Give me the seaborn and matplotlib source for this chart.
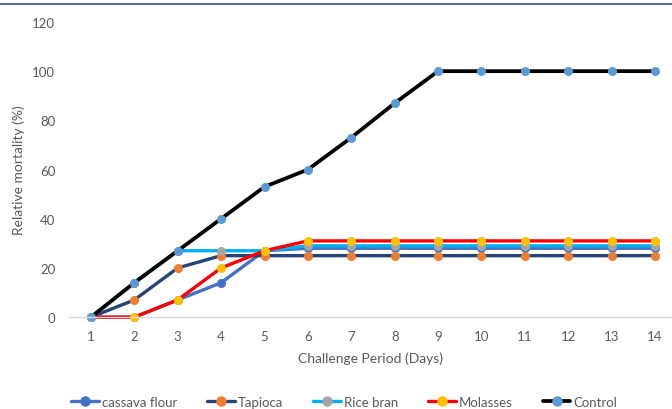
import numpy as np
import pandas as pd
import matplotlib
matplotlib.use("Agg")
import matplotlib.pyplot as plt
from matplotlib.lines import Line2D
import seaborn as sns

# ── Data ──────────────────────────────────────────────────────────────────────
days = list(range(1, 15))
cassava_flour = [0, 0, 7, 14, 27, 28, 28, 28, 28, 28, 28, 28, 28, 28]
tapioca       = [0, 7, 20, 25, 25, 25, 25, 25, 25, 25, 25, 25, 25, 25]
rice_bran     = [0, 14, 27, 27, 27, 29, 29, 29, 29, 29, 29, 29, 29, 29]
molasses      = [0, 0, 7, 20, 27, 31, 31, 31, 31, 31, 31, 31, 31, 31]
control       = [0, 14, 27, 40, 53, 60, 73, 87, 100, 100, 100, 100, 100, 100]

series_names = ["cassava flour", "Tapioca", "Rice bran", "Molasses", "Control"]
series_values = [cassava_flour, tapioca, rice_bran, molasses, control]
line_colors = ["#4472C4", "#264478", "#00B0F0", "#FF0000", "#000000"]
marker_colors = ["#4472C4", "#ED7D31", "#A5A5A5", "#FFC000", "#5B9BD5"]
line_widths = [2.4, 2.4, 2.4, 2.4, 2.7]

# ── Plot ──────────────────────────────────────────────────────────────────────
sns.set_style("white")
plt.rcParams['font.family'] = ['Lato', 'DejaVu Sans']

fig = plt.figure(figsize=(6.72, 4.10), dpi=100)
ax = fig.add_axes([0.103, 0.224, 0.897, 0.720])

for name, vals, lc, mc, lw in zip(series_names, series_values,
                                  line_colors, marker_colors, line_widths):
    df = pd.DataFrame({"day": days, "value": vals})
    sns.lineplot(data=df, x="day", y="value", ax=ax, color=lc, linewidth=lw,
                 marker="o", markersize=6.5, markerfacecolor=mc,
                 markeredgecolor=mc, markeredgewidth=0, label=name,
                 legend=False, clip_on=False)

ax.set_xlim(0.5, 14.39)
ax.set_ylim(0, 120)
ax.set_xticks(days)
ax.set_yticks(range(0, 121, 20))
ax.tick_params(axis='both', length=0, labelsize=9.5, colors="#595959")
ax.tick_params(axis='x', pad=9)
ax.tick_params(axis='y', pad=10)

for side in ["top", "right", "left"]:
    ax.spines[side].set_visible(False)
ax.spines["bottom"].set_color("#D9D9D9")
ax.spines["bottom"].set_linewidth(1)

ax.set_xlabel("Challenge Period (Days)", fontsize=10, color="#595959",
              labelpad=7)
ax.set_ylabel("Relative mortality (%)", fontsize=10, color="#595959",
              labelpad=5)

handles = [Line2D([0], [0], color=lc, linewidth=lw, marker="o", markersize=6.5,
                  markerfacecolor=mc, markeredgecolor=mc)
           for lc, mc, lw in zip(line_colors, marker_colors, line_widths)]
fig.legend(handles, series_names, loc="center", bbox_to_anchor=(0.512, 0.017),
           ncol=5, frameon=False, fontsize=9.5, labelcolor="#595959",
           handlelength=2.1, handletextpad=0.2, columnspacing=2.3)

# thin blue rule across the top of the picture
fig.add_artist(Line2D([0, 1], [0.988, 0.988], color="#2F4B9A", linewidth=1.2,
                      transform=fig.transFigure))

fig.savefig("out.png", dpi=100)
